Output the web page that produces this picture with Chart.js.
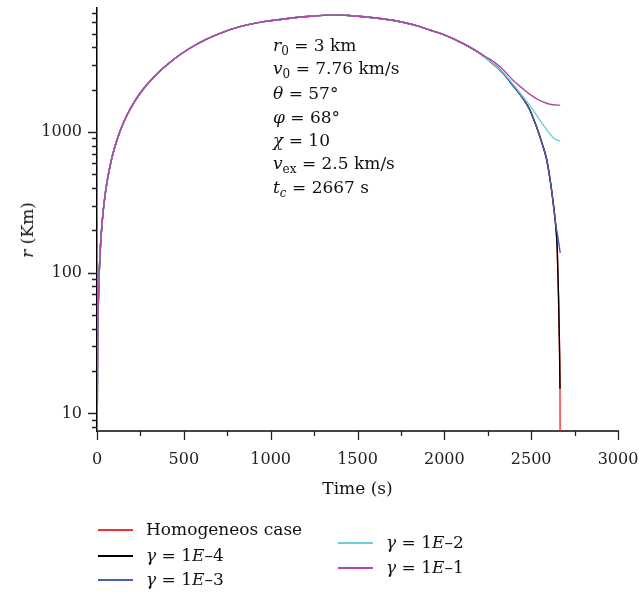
<!DOCTYPE html>
<html>
<head>
<meta charset="utf-8">
<script src="https://cdn.jsdelivr.net/npm/chart.js@4.4.0/dist/chart.umd.min.js"></script>
<style>
  html, body { margin: 0; padding: 0; background: #fff; }
  #wrap { position: relative; width: 639px; height: 594px; font-family: "DejaVu Serif", "Liberation Serif", serif; color: #111; }
  #wrap canvas { position: absolute; left: 0; top: 0; }
  .txt { position: absolute; font-size: 17px; line-height: 18px; white-space: nowrap; }
  .txt i { font-style: italic; }
  .txt sub { font-size: 12px; vertical-align: -4px; line-height: 0; }
  .ytitle { position: absolute; left: 27px; top: 230px; transform: translate(-50%, -50%) rotate(-90deg); font-size: 17px; white-space: nowrap; }
  .key { position: absolute; width: 35px; height: 0; border-top: 2px solid; }
</style>
</head>
<body>
<div id="wrap">
  <canvas id="chart" width="639" height="594"></canvas>

  <div class="txt" style="left:273px; top:36px"><i>r</i><sub>0</sub> = 3 km</div>
  <div class="txt" style="left:273px; top:59px"><i>v</i><sub>0</sub> = 7.76 km/s</div>
  <div class="txt" style="left:273px; top:84px"><i>θ</i> = 57°</div>
  <div class="txt" style="left:273px; top:108px"><i>φ</i> = 68°</div>
  <div class="txt" style="left:273px; top:131px"><i>χ</i> = 10</div>
  <div class="txt" style="left:273px; top:154px"><i>v</i><sub>ex</sub> = 2.5 km/s</div>
  <div class="txt" style="left:273px; top:178px"><i>t</i><sub><i>c</i></sub> = 2667 s</div>

  <div class="ytitle"><i>r</i> (Km)</div>

  <div id="legend"></div>
</div>

<script>
// ascent, identical for every case
const tAscent = [0, 3, 6, 10, 20, 30, 45, 60, 80, 100, 132, 160, 190, 248, 330, 439, 530, 631, 720, 823,
  960, 1111, 1230, 1341, 1450, 1629, 1780, 1859, 1917, 2000, 2100, 2205];
const rAscent = [3, 26, 49, 79, 155, 231, 345, 459, 611, 763, 1006, 1220, 1445, 1884, 2480, 3260, 3900, 4560, 5080, 5600,
  6080, 6430, 6640, 6760, 6720, 6400, 5950, 5600, 5300, 4900, 4300, 3614];

// descent, per case
const tHomog = [2340, 2400, 2450, 2493, 2512, 2531, 2560, 2589, 2610, 2627, 2640, 2650, 2658, 2663, 2666, 2667];
const rHomog = [2600, 2100, 1750, 1432, 1250, 1090, 850, 640, 450, 312, 225, 150, 64, 30, 15, 3];

const tG4 = [2340, 2400, 2450, 2493, 2512, 2531, 2560, 2589, 2610, 2627, 2640, 2650, 2658, 2663, 2666];
const rG4 = [2600, 2100, 1750, 1432, 1250, 1090, 850, 640, 450, 312, 225, 150, 64, 30, 15];

const tG3 = [2340, 2400, 2450, 2493, 2512, 2531, 2560, 2589, 2610, 2627, 2640, 2652, 2660, 2667];
const rG3 = [2600, 2100, 1750, 1432, 1250, 1090, 850, 640, 450, 312, 228, 185, 160, 138];

const tG2 = [2340, 2400, 2450, 2493, 2541, 2589, 2627, 2650, 2667];
const rG2 = [2620, 2150, 1800, 1540, 1260, 1040, 910, 875, 865];

const tG1 = [2290, 2340, 2400, 2450, 2493, 2540, 2589, 2627, 2667];
const rG1 = [3120, 2760, 2300, 2040, 1850, 1700, 1600, 1560, 1550];

const seriesNames = ['Homogeneos case', 'γ = 1E–4', 'γ = 1E–3', 'γ = 1E–2', 'γ = 1E–1'];
const seriesColors = ['#ff2a2a', '#000000', '#4b5fb3', '#6dcfd6', '#b545a6'];

const xTicks = [0, 250, 500, 750, 1000, 1250, 1500, 1750, 2000, 2250, 2500, 2750, 3000];
const xLabels = [0, 500, 1000, 1500, 2000, 2500, 3000];
const yTicks = [8, 9, 10, 20, 30, 40, 50, 60, 70, 80, 90, 100, 200, 300, 400, 500, 600, 700, 800, 900,
  1000, 2000, 3000, 4000, 5000, 6000, 7000];
const yLabels = [10, 100, 1000];

function points(t, r) {
  const pts = [];
  for (let i = 0; i < t.length; i++) pts.push({x: t[i], y: r[i]});
  return pts;
}

const tails = [[tHomog, rHomog], [tG4, rG4], [tG3, rG3], [tG2, rG2], [tG1, rG1]];
const datasets = tails.map((tail, i) => ({
  label: seriesNames[i],
  data: points(tAscent.concat(tail[0]), rAscent.concat(tail[1])),
  borderColor: seriesColors[i],
  borderWidth: 1.4,
  pointRadius: 0,
  cubicInterpolationMode: 'monotone',
  order: 4 - i
}));

const tickFont = {family: 'DejaVu Serif', size: 16};

// keep the plot area where the figure has it: no extra room for edge labels
function noEdgePadding(s) {
  s.paddingTop = 0;
  s.paddingBottom = 0;
  s.paddingLeft = 0;
  s.paddingRight = 0;
}

// tick marks: long at labelled values, short elsewhere
const tickMarks = {
  id: 'tickMarks',
  afterDraw(chart) {
    const {ctx} = chart;
    const xs = chart.scales.x, ys = chart.scales.y;
    ctx.save();
    ctx.strokeStyle = '#222';
    ctx.lineWidth = 1.3;
    ctx.beginPath();
    ys.ticks.forEach(t => {
      const py = Math.round(ys.getPixelForValue(t.value)) + 0.5;
      const len = yLabels.includes(t.value) ? 9 : 5;
      ctx.moveTo(ys.right - len, py);
      ctx.lineTo(ys.right, py);
    });
    xs.ticks.forEach(t => {
      const px = Math.round(xs.getPixelForValue(t.value)) + 0.5;
      const len = xLabels.includes(t.value) ? 9 : 5;
      ctx.moveTo(px, xs.top);
      ctx.lineTo(px, xs.top + len);
    });
    ctx.stroke();
    ctx.restore();
  }
};

new Chart(document.getElementById('chart'), {
  type: 'line',
  data: {datasets: datasets},
  options: {
    responsive: false,
    animation: false,
    devicePixelRatio: 1,
    layout: {padding: {top: 8, right: 21, bottom: 94, left: 0}},
    plugins: {legend: {display: false}, tooltip: {enabled: false}},
    scales: {
      x: {
        type: 'linear',
        min: 0,
        max: 3000,
        grid: {display: false, drawTicks: false},
        border: {color: '#444', width: 2},
        afterBuildTicks: s => { s.ticks = xTicks.map(v => ({value: v})); },
        afterFit: s => { s.height = 69; noEdgePadding(s); },
        ticks: {
          autoSkip: false,
          maxRotation: 0,
          padding: 19,
          font: tickFont,
          color: '#222',
          callback: v => xLabels.includes(v) ? String(v) : ''
        },
        title: {display: true, text: 'Time (s)', font: {family: 'DejaVu Serif', size: 17}, color: '#111', padding: 0}
      },
      y: {
        type: 'logarithmic',
        min: 7.5,
        max: 7600,
        grid: {display: false, drawTicks: false},
        border: {color: '#000', width: 1.5},
        afterBuildTicks: s => { s.ticks = yTicks.map(v => ({value: v})); },
        afterFit: s => { s.width = 97; noEdgePadding(s); },
        ticks: {
          autoSkip: false,
          padding: 15,
          font: tickFont,
          color: '#222',
          callback: v => yLabels.includes(v) ? String(v) : ''
        }
      }
    }
  },
  plugins: [tickMarks]
});

// legend, two staggered columns as in the figure
const legendPos = [[98, 530], [98, 556], [98, 580], [338, 543], [338, 568]];
const legend = document.getElementById('legend');
seriesNames.forEach((name, i) => {
  const [lx, ly] = legendPos[i];
  const key = document.createElement('div');
  key.className = 'key';
  key.style.left = lx + 'px';
  key.style.top = (ly - 1) + 'px';
  key.style.borderColor = seriesColors[i];
  legend.appendChild(key);
  const lab = document.createElement('div');
  lab.className = 'txt';
  lab.style.left = (lx + 48) + 'px';
  lab.style.top = (ly - 10) + 'px';
  lab.innerHTML = i === 0 ? name : name.replace('γ', '<i>γ</i>').replace('E', '<i>E</i>');
  legend.appendChild(lab);
});
</script>
</body>
</html>
